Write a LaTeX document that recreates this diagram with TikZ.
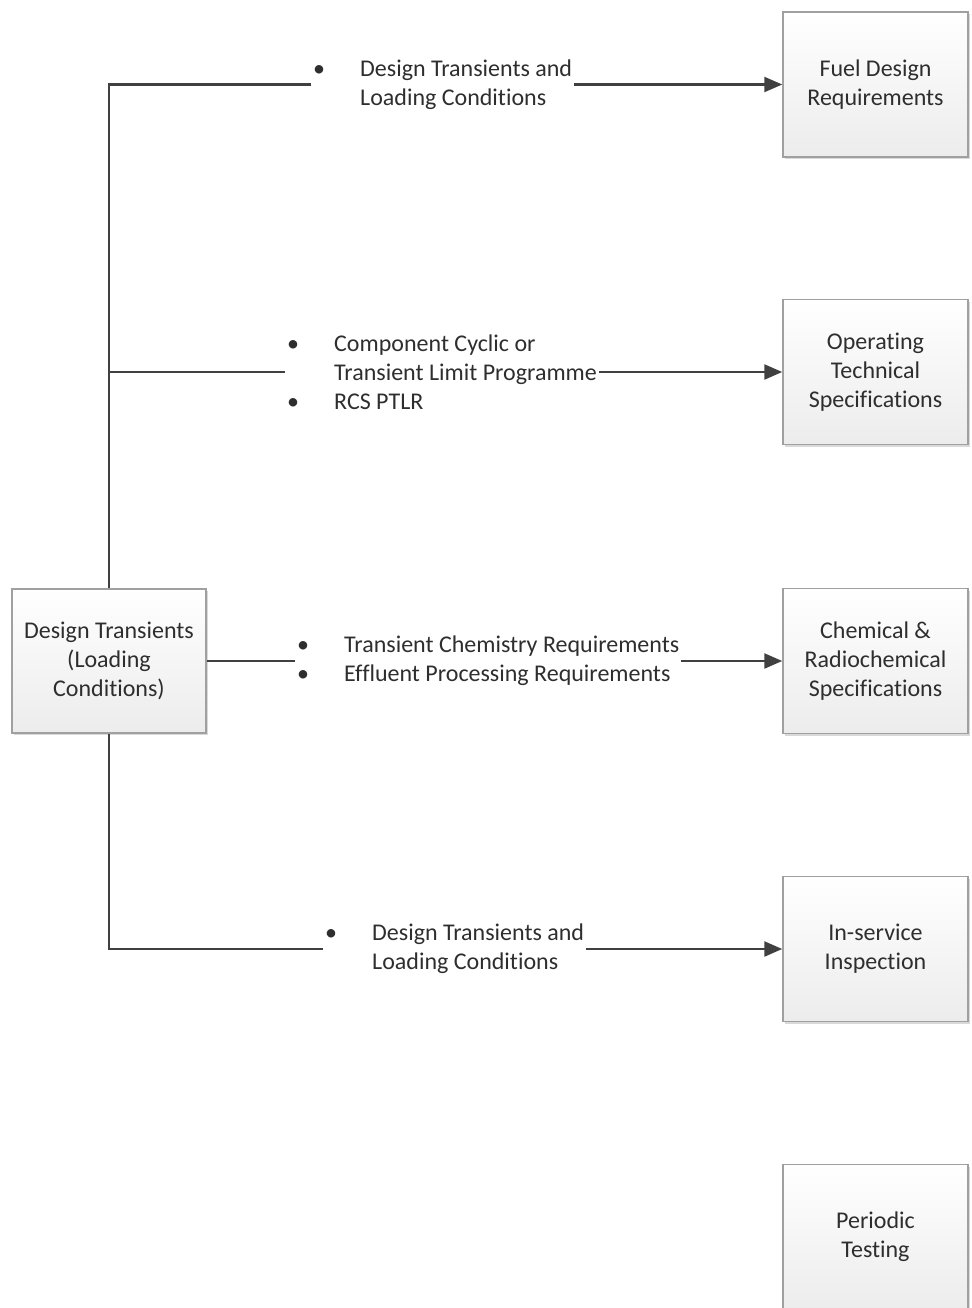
\documentclass[tikz,border=0pt]{standalone}
\usepackage{fontspec}
\setmainfont{Carlito}[Ligatures={NoCommon,NoRare}]
\usetikzlibrary{arrows.meta,shadows}
\definecolor{ink}{HTML}{2E2E2E}
\definecolor{wire}{HTML}{404040}
\definecolor{boxline}{HTML}{A0A0A0}
\definecolor{boxbot}{HTML}{ECECEC}
\newcommand\bul{\makebox[47pt][l]{•}}
\newcommand\ind{\hspace*{47pt}}
\begin{document}
\begin{tikzpicture}[x=1pt,y=-1pt,
  box/.style={draw=boxline, line width=1.5pt, top color=white, bottom color=boxbot,
    minimum width=185pt, minimum height=145pt, align=center, inner sep=0pt,
    font=\fontsize{24}{29}\selectfont, text=ink,
    drop shadow={shadow xshift=2pt, shadow yshift=-2pt, fill=black, opacity=.15}},
  lbl/.style={anchor=west, align=left, inner sep=2pt,
    font=\fontsize{24}{29}\selectfont, text=ink},
  conn/.style={draw=wire, line width=2.4pt},
  arr/.style={conn, -{Triangle[length=18pt,width=15pt]}}]
\useasboundingbox (0,0) rectangle (971,1308);

% source box
\node[box, minimum width=194pt, minimum height=144pt] (src) at (109,661)
  {Design Transients\\(Loading\\Conditions)};

% target boxes
\node[box] (fuel) at (875.5,84.5) {Fuel Design\\Requirements};
\node[box] (ots)  at (875.5,372)  {Operating\\Technical\\Specifications};
\node[box] (chem) at (875.5,661)  {Chemical \&\\Radiochemical\\Specifications};
\node[box] (isi)  at (875.5,949)  {In-service\\Inspection};
\node[box] (pt)   at (875.5,1237) {Periodic\\Testing};

% branch labels
\node[lbl] (l1) at (311,84.5) {\bul Design Transients and\\\ind Loading Conditions};
\node[lbl] (l2) at (285,372)  {\bul Component Cyclic or\\\ind Transient Limit Programme\\\bul RCS PTLR};
\node[lbl] (l3) at (295,661)  {\bul Transient Chemistry Requirements\\\bul Effluent Processing Requirements};
\node[lbl] (l4) at (323,949)  {\bul Design Transients and\\\ind Loading Conditions};

% trunk and branches
\draw[conn] (src.north) |- (l1.west);
\draw[conn] (src.north) |- (l2.west);
\draw[conn] (src.east) -- (l3.west);
\draw[conn] (src.south) |- (l4.west);

% arrows into the targets
\draw[arr] (l1.east) -- (fuel.west);
\draw[arr] (l2.east) -- (ots.west);
\draw[arr] (l3.east) -- (chem.west);
\draw[arr] (l4.east) -- (isi.west);
\end{tikzpicture}
\end{document}
